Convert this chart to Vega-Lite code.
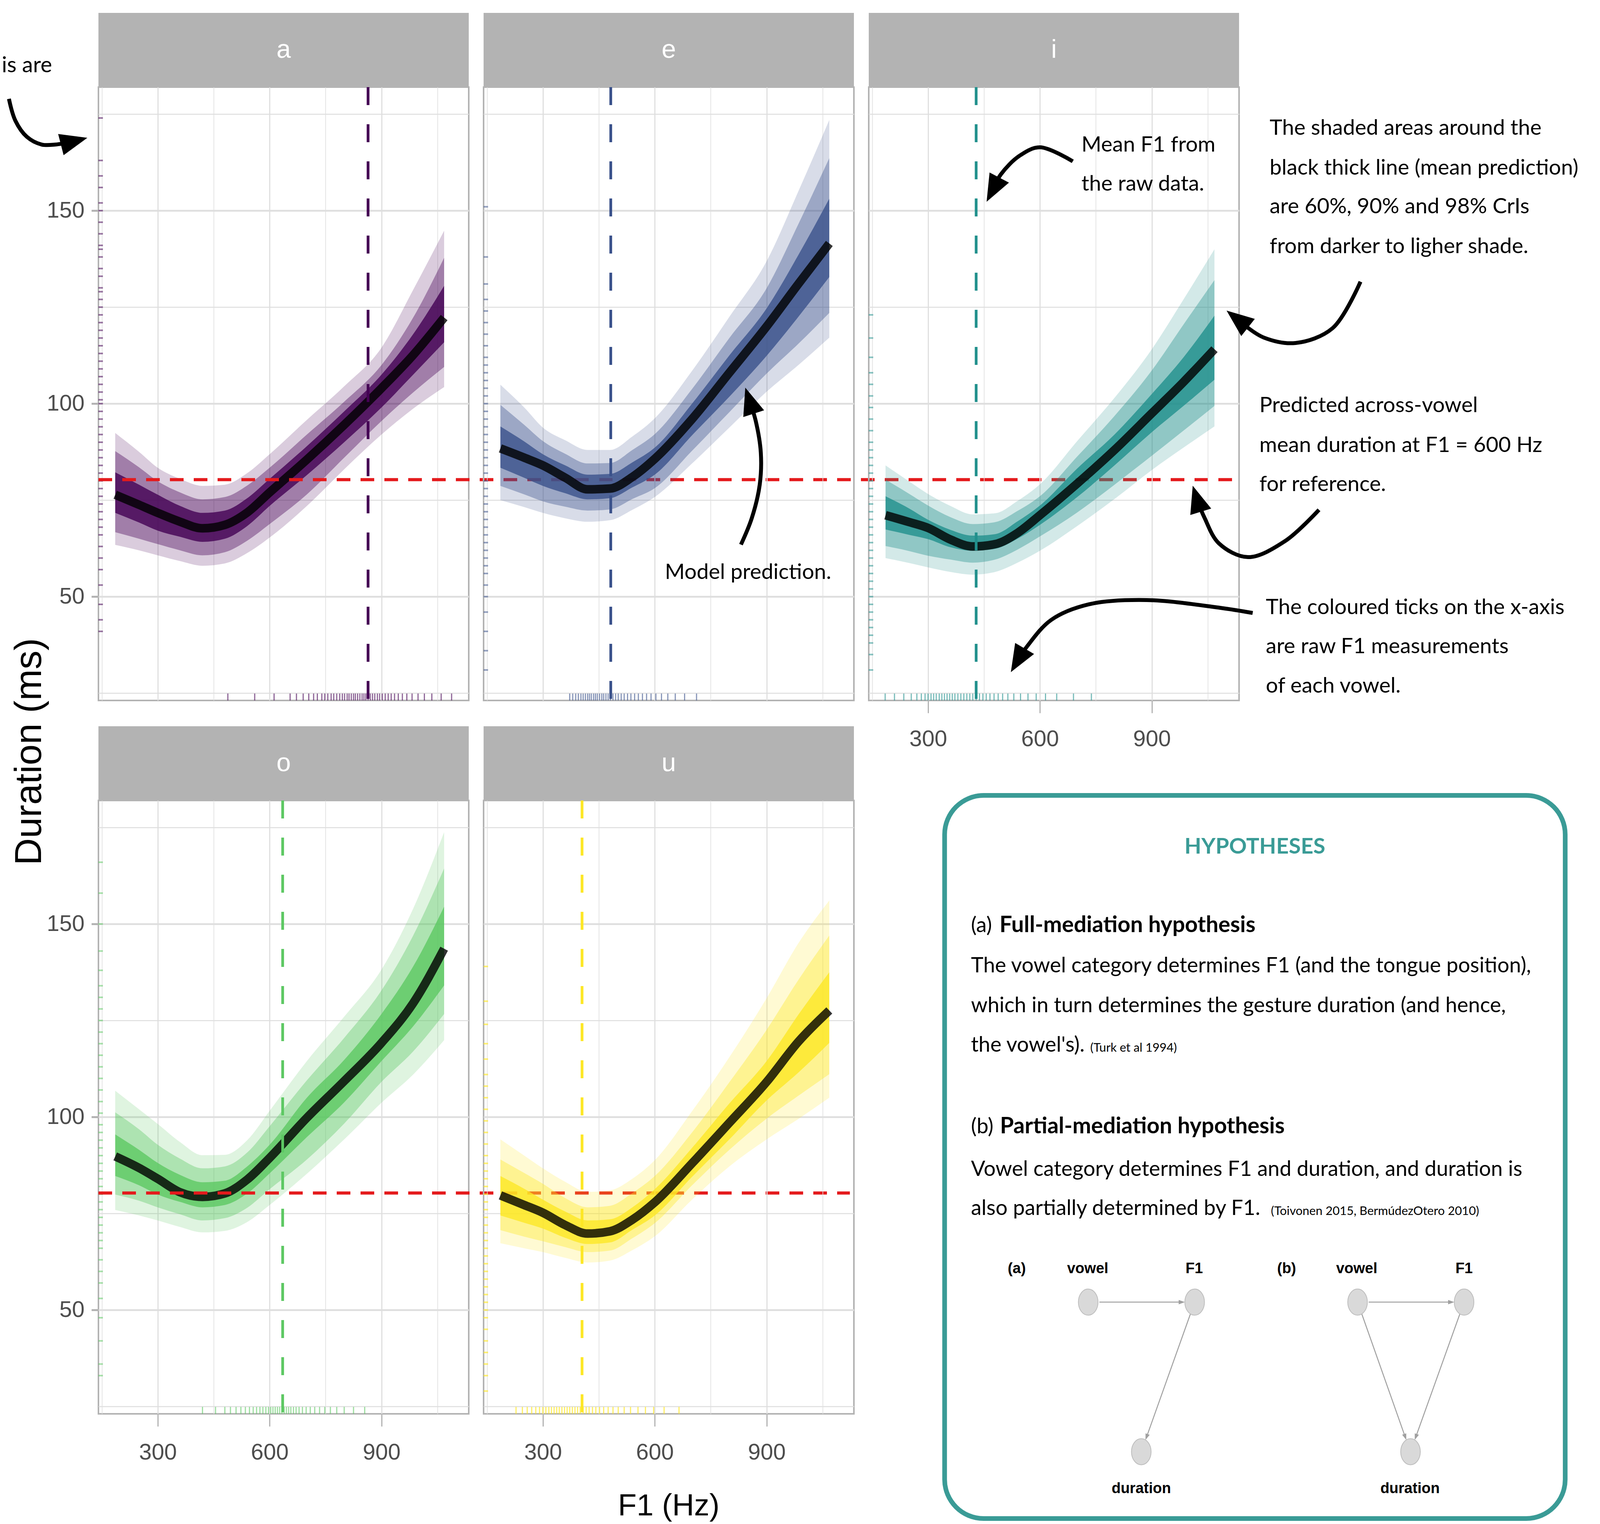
{
"$schema": "https://vega.github.io/schema/vega-lite/v6.json",
"background": "white",
"padding": {"left": 0, "top": 30, "right": 0, "bottom": 0},
"autosize": {"type": "pad"},
"config": {
  "view": {"stroke": "#B3B3B3", "strokeWidth": 4},
  "axis": {"domain": false, "gridColor": "#DEDEDE", "gridOpacity": 1, "tickColor": "#B3B3B3", "labelFont": "Liberation Sans", "labelFontSize": 58, "labelColor": "#4D4D4D", "labelOverlap": false, "labelFlush": false}
},
"datasets": {
  "pa": [
    {"f1":186,"m":76.4,"l98":63.4,"u98":92.4,"l90":66.7,"u90":87.7,"l60":71.7,"u60":82.2},
    {"f1":250,"m":73.8,"l98":62.0,"u98":87.5,"l90":65.0,"u90":83.5,"l60":69.2,"u60":79.0},
    {"f1":300,"m":71.7,"l98":60.7,"u98":83.4,"l90":63.6,"u90":79.9,"l60":67.1,"u60":76.4},
    {"f1":360,"m":69.4,"l98":59.2,"u98":80.5,"l90":62.0,"u90":77.0,"l60":65.5,"u60":73.5},
    {"f1":420,"m":67.7,"l98":58.0,"u98":78.7,"l90":60.7,"u90":75.2,"l60":64.2,"u60":71.7},
    {"f1":480,"m":68.6,"l98":58.6,"u98":79.0,"l90":61.5,"u90":75.8,"l60":65.0,"u60":72.3},
    {"f1":540,"m":71.8,"l98":61.3,"u98":82.0,"l90":64.5,"u90":78.8,"l60":68.3,"u60":75.5},
    {"f1":600,"m":77.0,"l98":65.3,"u98":86.9,"l90":68.8,"u90":83.4,"l60":73.5,"u60":80.5},
    {"f1":700,"m":85.5,"l98":73.5,"u98":95.8,"l90":76.5,"u90":92.0,"l60":81.5,"u60":89.0},
    {"f1":800,"m":94.5,"l98":83.0,"u98":104.5,"l90":86.0,"u90":100.5,"l60":90.0,"u60":98.0},
    {"f1":900,"m":104.0,"l98":92.0,"u98":114.5,"l90":95.5,"u90":110.0,"l60":99.0,"u60":107.5},
    {"f1":985,"m":112.6,"l98":98.7,"u98":129.5,"l90":102.9,"u90":122.3,"l60":107.5,"u60":118.0},
    {"f1":1068,"m":122.3,"l98":104.3,"u98":144.8,"l90":109.5,"u90":137.8,"l60":115.9,"u60":130.5}
  ],
  "pe": [
    {"f1":186,"m":88.4,"l98":75.0,"u98":104.9,"l90":78.7,"u90":99.7,"l60":83.4,"u60":94.1},
    {"f1":250,"m":86.0,"l98":73.2,"u98":99.0,"l90":76.5,"u90":94.5,"l60":80.8,"u60":90.2},
    {"f1":300,"m":84.0,"l98":71.7,"u98":93.8,"l90":74.7,"u90":90.3,"l60":78.7,"u60":86.9},
    {"f1":360,"m":80.8,"l98":70.3,"u98":90.5,"l90":73.3,"u90":87.0,"l60":76.8,"u60":84.0},
    {"f1":420,"m":77.8,"l98":69.4,"u98":88.0,"l90":72.3,"u90":84.5,"l60":75.2,"u60":81.6},
    {"f1":480,"m":78.0,"l98":69.8,"u98":88.0,"l90":72.6,"u90":84.6,"l60":75.5,"u60":81.8},
    {"f1":540,"m":81.0,"l98":72.5,"u98":91.5,"l90":75.3,"u90":88.0,"l60":78.3,"u60":84.8},
    {"f1":600,"m":85.7,"l98":75.8,"u98":96.2,"l90":78.1,"u90":92.1,"l60":81.6,"u60":88.6},
    {"f1":700,"m":96.0,"l98":84.5,"u98":108.5,"l90":87.8,"u90":103.8,"l60":91.8,"u60":100.0},
    {"f1":800,"m":108.0,"l98":93.8,"u98":122.5,"l90":97.8,"u90":117.0,"l60":101.8,"u60":112.5},
    {"f1":900,"m":120.0,"l98":103.1,"u98":136.9,"l90":107.8,"u90":129.9,"l60":112.4,"u60":124.7},
    {"f1":985,"m":131.0,"l98":110.0,"u98":155.0,"l90":115.5,"u90":146.5,"l60":122.5,"u60":138.5},
    {"f1":1068,"m":141.5,"l98":117.1,"u98":173.5,"l90":123.5,"u90":163.6,"l60":132.8,"u60":153.1}
  ],
  "pi": [
    {"f1":186,"m":71.1,"l98":60.0,"u98":84.0,"l90":63.1,"u90":80.3,"l60":67.4,"u60":76.0},
    {"f1":250,"m":69.3,"l98":58.7,"u98":79.8,"l90":61.8,"u90":76.6,"l60":66.0,"u60":72.8},
    {"f1":300,"m":67.8,"l98":57.6,"u98":76.6,"l90":60.6,"u90":73.6,"l60":64.9,"u60":69.9},
    {"f1":360,"m":64.8,"l98":56.4,"u98":73.5,"l90":59.6,"u90":70.6,"l60":62.8,"u60":67.3},
    {"f1":420,"m":63.0,"l98":55.7,"u98":71.3,"l90":58.8,"u90":68.8,"l60":61.9,"u60":65.8},
    {"f1":480,"m":63.6,"l98":56.4,"u98":71.6,"l90":59.6,"u90":69.3,"l60":62.4,"u60":66.2},
    {"f1":540,"m":66.5,"l98":58.8,"u98":74.8,"l90":62.2,"u90":72.2,"l60":65.0,"u60":69.5},
    {"f1":600,"m":71.1,"l98":61.9,"u98":79.1,"l90":65.6,"u90":76.0,"l60":68.6,"u60":73.6},
    {"f1":700,"m":79.3,"l98":68.3,"u98":90.3,"l90":71.8,"u90":86.3,"l60":75.8,"u60":83.2},
    {"f1":800,"m":88.0,"l98":75.3,"u98":101.5,"l90":79.0,"u90":96.8,"l60":84.0,"u60":92.0},
    {"f1":900,"m":97.5,"l98":82.8,"u98":114.1,"l90":86.5,"u90":108.6,"l60":92.6,"u60":102.5},
    {"f1":985,"m":105.6,"l98":88.6,"u98":127.0,"l90":93.0,"u90":120.5,"l60":99.4,"u60":112.0},
    {"f1":1068,"m":114.1,"l98":94.1,"u98":140.0,"l90":99.4,"u90":132.0,"l60":106.2,"u60":122.8}
  ],
  "po": [
    {"f1":186,"m":89.8,"l98":75.9,"u98":106.8,"l90":79.9,"u90":101.2,"l60":84.7,"u60":95.5},
    {"f1":250,"m":86.8,"l98":74.5,"u98":102.0,"l90":78.3,"u90":96.8,"l60":82.3,"u60":91.5},
    {"f1":300,"m":84.0,"l98":73.2,"u98":98.2,"l90":76.6,"u90":92.8,"l60":79.9,"u60":88.1},
    {"f1":360,"m":80.5,"l98":71.5,"u98":93.5,"l90":74.8,"u90":89.2,"l60":78.0,"u60":85.0},
    {"f1":420,"m":79.3,"l98":70.1,"u98":90.1,"l90":73.2,"u90":86.7,"l60":76.6,"u60":83.1},
    {"f1":480,"m":80.2,"l98":70.5,"u98":90.2,"l90":73.8,"u90":87.2,"l60":77.2,"u60":83.5},
    {"f1":540,"m":83.8,"l98":72.8,"u98":94.0,"l90":76.5,"u90":90.8,"l60":80.2,"u60":87.2},
    {"f1":600,"m":89.4,"l98":77.2,"u98":101.6,"l90":81.3,"u90":97.6,"l60":85.4,"u60":92.8},
    {"f1":700,"m":99.8,"l98":85.3,"u98":114.5,"l90":89.0,"u90":109.5,"l60":94.8,"u60":105.0},
    {"f1":800,"m":109.3,"l98":94.2,"u98":126.0,"l90":98.3,"u90":120.5,"l60":103.8,"u60":114.8},
    {"f1":900,"m":119.2,"l98":103.7,"u98":138.2,"l90":109.1,"u90":132.8,"l60":114.5,"u60":126.7},
    {"f1":985,"m":129.5,"l98":111.0,"u98":154.0,"l90":117.0,"u90":147.0,"l60":123.5,"u60":139.0},
    {"f1":1068,"m":143.6,"l98":119.9,"u98":173.8,"l90":126.7,"u90":164.4,"l60":134.1,"u60":154.5}
  ],
  "pu": [
    {"f1":186,"m":79.7,"l98":67.3,"u98":94.2,"l90":70.7,"u90":89.0,"l60":74.5,"u60":84.7},
    {"f1":250,"m":77.2,"l98":66.0,"u98":90.0,"l90":69.0,"u90":85.5,"l60":72.6,"u60":81.4},
    {"f1":300,"m":75.2,"l98":65.0,"u98":86.7,"l90":67.8,"u90":82.7,"l60":71.1,"u60":78.6},
    {"f1":360,"m":72.0,"l98":63.5,"u98":83.2,"l90":66.3,"u90":79.0,"l60":68.7,"u60":75.5},
    {"f1":420,"m":69.8,"l98":62.3,"u98":80.6,"l90":65.0,"u90":76.6,"l60":67.1,"u60":73.2},
    {"f1":480,"m":70.4,"l98":62.8,"u98":81.0,"l90":65.4,"u90":77.0,"l60":67.5,"u60":73.5},
    {"f1":540,"m":73.4,"l98":65.5,"u98":84.0,"l90":68.6,"u90":80.3,"l60":70.8,"u60":76.6},
    {"f1":600,"m":77.9,"l98":69.1,"u98":88.8,"l90":72.5,"u90":84.7,"l60":74.5,"u60":81.3},
    {"f1":700,"m":88.0,"l98":78.6,"u98":101.5,"l90":82.3,"u90":96.0,"l60":84.5,"u60":92.0},
    {"f1":800,"m":98.5,"l98":87.2,"u98":115.5,"l90":91.5,"u90":109.0,"l60":94.2,"u60":103.5},
    {"f1":900,"m":109.1,"l98":94.2,"u98":130.8,"l90":99.6,"u90":122.6,"l60":104.3,"u60":114.5},
    {"f1":985,"m":119.5,"l98":99.5,"u98":145.0,"l90":105.5,"u90":135.5,"l60":111.5,"u60":126.5},
    {"f1":1068,"m":127.6,"l98":105.0,"u98":156.1,"l90":111.1,"u90":147.0,"l60":119.2,"u60":137.5}
  ],
  "rxa": [{"f1":488},{"f1":560},{"f1":612},{"f1":655},{"f1":672},{"f1":690},{"f1":705},{"f1":718},{"f1":728},{"f1":740},{"f1":748},{"f1":756},{"f1":765},{"f1":772},{"f1":780},{"f1":788},{"f1":795},{"f1":801},{"f1":808},{"f1":813},{"f1":819},{"f1":825},{"f1":830},{"f1":836},{"f1":842},{"f1":848},{"f1":853},{"f1":858},{"f1":864},{"f1":870},{"f1":876},{"f1":882},{"f1":889},{"f1":895},{"f1":902},{"f1":910},{"f1":918},{"f1":926},{"f1":935},{"f1":945},{"f1":956},{"f1":968},{"f1":982},{"f1":998},{"f1":1015},{"f1":1035},{"f1":1060},{"f1":1088}],
  "rya": [{"d":174},{"d":163},{"d":159},{"d":156},{"d":152},{"d":150},{"d":147},{"d":144},{"d":141},{"d":140},{"d":138},{"d":135},{"d":133},{"d":130},{"d":129},{"d":127},{"d":125},{"d":123},{"d":121},{"d":119},{"d":117},{"d":115},{"d":113},{"d":111},{"d":109},{"d":107},{"d":105},{"d":103},{"d":101},{"d":100},{"d":98},{"d":96},{"d":94},{"d":92},{"d":90},{"d":88},{"d":86},{"d":84},{"d":82},{"d":80},{"d":78},{"d":76},{"d":74},{"d":72},{"d":70},{"d":68},{"d":66},{"d":63},{"d":60},{"d":57},{"d":53},{"d":48},{"d":44},{"d":41}],
  "rxe": [{"f1":372},{"f1":380},{"f1":388},{"f1":395},{"f1":402},{"f1":408},{"f1":414},{"f1":420},{"f1":425},{"f1":430},{"f1":436},{"f1":441},{"f1":446},{"f1":452},{"f1":458},{"f1":463},{"f1":469},{"f1":475},{"f1":481},{"f1":488},{"f1":495},{"f1":502},{"f1":510},{"f1":518},{"f1":527},{"f1":536},{"f1":546},{"f1":556},{"f1":567},{"f1":578},{"f1":590},{"f1":603},{"f1":618},{"f1":635},{"f1":655},{"f1":680},{"f1":712}],
  "rye": [{"d":151},{"d":138},{"d":131},{"d":127},{"d":124},{"d":121},{"d":118},{"d":115},{"d":112},{"d":110},{"d":108},{"d":106},{"d":104},{"d":102},{"d":100},{"d":98},{"d":96},{"d":94},{"d":92},{"d":90},{"d":88},{"d":86},{"d":84},{"d":82},{"d":80},{"d":78},{"d":76},{"d":74},{"d":72},{"d":70},{"d":68},{"d":66},{"d":64},{"d":62},{"d":60},{"d":58},{"d":56},{"d":53},{"d":50},{"d":46},{"d":41},{"d":36},{"d":31}],
  "rxi": [{"f1":185},{"f1":210},{"f1":235},{"f1":255},{"f1":270},{"f1":282},{"f1":292},{"f1":300},{"f1":308},{"f1":315},{"f1":322},{"f1":330},{"f1":337},{"f1":344},{"f1":351},{"f1":358},{"f1":365},{"f1":372},{"f1":380},{"f1":388},{"f1":396},{"f1":404},{"f1":412},{"f1":420},{"f1":429},{"f1":438},{"f1":447},{"f1":456},{"f1":466},{"f1":477},{"f1":488},{"f1":500},{"f1":514},{"f1":530},{"f1":548},{"f1":568},{"f1":590},{"f1":615},{"f1":645},{"f1":690},{"f1":738}],
  "ryi": [{"d":123},{"d":117},{"d":112},{"d":108},{"d":105},{"d":102},{"d":99},{"d":96},{"d":93},{"d":90},{"d":88},{"d":86},{"d":84},{"d":82},{"d":80},{"d":78},{"d":76},{"d":74},{"d":72},{"d":70},{"d":68},{"d":66},{"d":64},{"d":62},{"d":60},{"d":58},{"d":56},{"d":54},{"d":52},{"d":50},{"d":48},{"d":46},{"d":44},{"d":42},{"d":40},{"d":38},{"d":35},{"d":31}],
  "rxo": [{"f1":420},{"f1":455},{"f1":480},{"f1":495},{"f1":510},{"f1":523},{"f1":535},{"f1":546},{"f1":556},{"f1":565},{"f1":574},{"f1":582},{"f1":590},{"f1":597},{"f1":603},{"f1":609},{"f1":615},{"f1":621},{"f1":627},{"f1":633},{"f1":639},{"f1":645},{"f1":651},{"f1":657},{"f1":664},{"f1":671},{"f1":679},{"f1":688},{"f1":698},{"f1":709},{"f1":721},{"f1":734},{"f1":748},{"f1":763},{"f1":780},{"f1":800},{"f1":825},{"f1":855}],
  "ryo": [{"d":166},{"d":158},{"d":150},{"d":143},{"d":138},{"d":134},{"d":131},{"d":128},{"d":125},{"d":122},{"d":119},{"d":116},{"d":113},{"d":110},{"d":107},{"d":104},{"d":101},{"d":98},{"d":96},{"d":94},{"d":92},{"d":90},{"d":88},{"d":86},{"d":84},{"d":82},{"d":80},{"d":78},{"d":76},{"d":74},{"d":72},{"d":70},{"d":68},{"d":66},{"d":63},{"d":60},{"d":57},{"d":53},{"d":48},{"d":42},{"d":36},{"d":33}],
  "rxu": [{"f1":228},{"f1":245},{"f1":258},{"f1":270},{"f1":281},{"f1":291},{"f1":300},{"f1":308},{"f1":316},{"f1":323},{"f1":330},{"f1":337},{"f1":344},{"f1":351},{"f1":358},{"f1":365},{"f1":372},{"f1":379},{"f1":386},{"f1":393},{"f1":400},{"f1":408},{"f1":416},{"f1":424},{"f1":433},{"f1":442},{"f1":452},{"f1":463},{"f1":475},{"f1":488},{"f1":502},{"f1":518},{"f1":535},{"f1":555},{"f1":575},{"f1":597},{"f1":625},{"f1":665}],
  "ryu": [{"d":139},{"d":130},{"d":124},{"d":119},{"d":115},{"d":111},{"d":108},{"d":105},{"d":102},{"d":99},{"d":96},{"d":93},{"d":90},{"d":88},{"d":86},{"d":84},{"d":82},{"d":80},{"d":78},{"d":76},{"d":74},{"d":72},{"d":70},{"d":68},{"d":66},{"d":64},{"d":62},{"d":60},{"d":58},{"d":56},{"d":54},{"d":52},{"d":50},{"d":48},{"d":45},{"d":42},{"d":39},{"d":36},{"d":33},{"d":29}]
},
"columns": 3,
"align": "each",
"bounds": "flush",
"spacing": {"row": 256, "column": 38},
"concat": [
{
  "width": 948, "height": 1570,
  "data": {"name": "pa"},
  "layer": [
    {"mark": {"type": "area", "color": "#440154", "opacity": 0.2, "interpolate": "monotone"},
     "encoding": {
       "x": {"field": "f1", "type": "quantitative", "scale": {"domain": [141, 1134], "nice": false, "zero": false},
             "axis": {"values": [150,300,450,600,750,900,1050], "title": null, "grid": true, "gridWidth": {"condition": {"test": "datum.value % 300 === 0", "value": 2.8}, "value": 1.6}, "labels": false, "ticks": false}},
       "y": {"field": "l98", "type": "quantitative", "scale": {"domain": [23.1, 182], "nice": false, "zero": false},
             "axis": {"values": [25,50,75,100,125,150,175], "title": null, "grid": true, "gridWidth": {"condition": {"test": "datum.value % 50 === 0", "value": 4.5}, "value": 2.5}, "labelExpr": "datum.value % 50 === 0 ? datum.label : ''", "tickOpacity": {"condition": {"test": "datum.value % 50 === 0", "value": 1}, "value": 0}, "tickSize": 18, "tickWidth": 5, "labelPadding": 18}},
       "y2": {"field": "u98"}}},
    {"mark": {"type": "area", "color": "#440154", "opacity": 0.38, "interpolate": "monotone"},
     "encoding": {"x": {"field": "f1", "type": "quantitative"}, "y": {"field": "l90", "type": "quantitative"}, "y2": {"field": "u90"}}},
    {"mark": {"type": "area", "color": "#440154", "opacity": 0.8, "interpolate": "monotone"},
     "encoding": {"x": {"field": "f1", "type": "quantitative"}, "y": {"field": "l60", "type": "quantitative"}, "y2": {"field": "u60"}}},
    {"mark": {"type": "line", "color": "black", "opacity": 0.8, "strokeWidth": 22, "interpolate": "monotone"},
     "encoding": {"x": {"field": "f1", "type": "quantitative"}, "y": {"field": "m", "type": "quantitative"}}},
    {"data": {"name": "rxa"}, "mark": {"type": "rule", "color": "#440154", "strokeWidth": 3, "opacity": 0.6},
     "encoding": {"x": {"field": "f1", "type": "quantitative"}, "y": {"datum": 23.1, "type": "quantitative"}, "y2": {"datum": 24.9}}},
    {"data": {"name": "rya"}, "mark": {"type": "rule", "color": "#440154", "strokeWidth": 4, "opacity": 0.55},
     "encoding": {"y": {"field": "d", "type": "quantitative"}, "x": {"datum": 141, "type": "quantitative"}, "x2": {"datum": 153}}},
    {"data": {"values": [{"ref": 80.3}]}, "mark": {"type": "rule", "color": "#E41A1C", "strokeWidth": 8, "strokeDash": [35, 26]},
     "encoding": {"y": {"field": "ref", "type": "quantitative"}, "x": {"datum": 141, "type": "quantitative"}, "x2": {"datum": 3185}}},
    {"data": {"values": [{"mf1": 864}]}, "mark": {"type": "rule", "color": "#440154", "strokeWidth": 7, "strokeDash": [46, 49]},
     "encoding": {"x": {"field": "mf1", "type": "quantitative"}}},
    {"data": {"values": [{"lab": "a"}]}, "mark": {"type": "rect", "color": "#B3B3B3", "opacity": 1},
     "encoding": {"x": {"datum": 141, "type": "quantitative"}, "x2": {"datum": 1134}, "y": {"datum": 182, "type": "quantitative"}, "y2": {"datum": 201.23}}},
    {"data": {"values": [{"lab": "a"}]}, "mark": {"type": "text", "color": "white", "font": "Liberation Sans", "fontSize": 66, "align": "center", "baseline": "middle"},
     "encoding": {"x": {"datum": 637.5, "type": "quantitative"}, "y": {"datum": 191.6, "type": "quantitative"}, "text": {"field": "lab"}}},
    {"data": {"values": [{"F1": -118.2, "D": 185.85, "t": "is are"}]}, "mark": {"type": "text", "font": "Lato", "fontSize": 56, "align": "left", "baseline": "alphabetic", "color": "black"},
     "encoding": {"x": {"field": "F1", "type": "quantitative"}, "y": {"field": "D", "type": "quantitative"}, "text": {"field": "t"}}},
    {"data": {"values": [{"g": 6, "k": 0, "F1": -99.0, "D": 178.96}, {"g": 6, "k": 1, "F1": -81.7, "D": 173.3}, {"g": 6, "k": 2, "F1": -51.1, "D": 169.15}, {"g": 6, "k": 3, "F1": -11.0, "D": 167.12}, {"g": 6, "k": 4, "F1": 25.5, "D": 167.12}, {"g": 6, "k": 5, "F1": 53.0, "D": 167.53}, {"g": 6, "k": 6, "F1": 75.8, "D": 167.98}]},
     "mark": {"type": "line", "color": "black", "strokeWidth": 10, "interpolate": "catmull-rom"},
     "encoding": {"x": {"field": "F1", "type": "quantitative"}, "y": {"field": "D", "type": "quantitative"}, "order": {"field": "k", "type": "quantitative"}, "detail": {"field": "g", "type": "nominal"}}},
    {"data": {"values": [{"F1": 75.8, "D": 167.98}]}, "mark": {"type": "point", "shape": "M0,-1L0.8,1L-0.8,1Z", "filled": true, "color": "black", "opacity": 1, "size": 4900, "angle": 75.6},
     "encoding": {"x": {"field": "F1", "type": "quantitative"}, "y": {"field": "D", "type": "quantitative"}}},
    {"data": {"values": [{"F1": -13.5, "D": 9.84, "t": "Duration (ms)"}]}, "mark": {"type": "text", "font": "Liberation Sans", "fontSize": 96, "angle": 270, "align": "center", "baseline": "alphabetic", "color": "black"},
     "encoding": {"x": {"field": "F1", "type": "quantitative"}, "y": {"field": "D", "type": "quantitative"}, "text": {"field": "t"}}}
  ]
},
{
  "width": 948, "height": 1570,
  "data": {"name": "pe"},
  "layer": [
    {"mark": {"type": "area", "color": "#3B528B", "opacity": 0.2, "interpolate": "monotone"},
     "encoding": {
       "x": {"field": "f1", "type": "quantitative", "scale": {"domain": [141, 1134], "nice": false, "zero": false},
             "axis": {"values": [150,300,450,600,750,900,1050], "title": null, "grid": true, "gridWidth": {"condition": {"test": "datum.value % 300 === 0", "value": 2.8}, "value": 1.6}, "labels": false, "ticks": false}},
       "y": {"field": "l98", "type": "quantitative", "scale": {"domain": [23.1, 182], "nice": false, "zero": false},
             "axis": {"values": [25,50,75,100,125,150,175], "title": null, "grid": true, "gridWidth": {"condition": {"test": "datum.value % 50 === 0", "value": 4.5}, "value": 2.5}, "labels": false, "ticks": false}},
       "y2": {"field": "u98"}}},
    {"mark": {"type": "area", "color": "#3B528B", "opacity": 0.38, "interpolate": "monotone"},
     "encoding": {"x": {"field": "f1", "type": "quantitative"}, "y": {"field": "l90", "type": "quantitative"}, "y2": {"field": "u90"}}},
    {"mark": {"type": "area", "color": "#3B528B", "opacity": 0.8, "interpolate": "monotone"},
     "encoding": {"x": {"field": "f1", "type": "quantitative"}, "y": {"field": "l60", "type": "quantitative"}, "y2": {"field": "u60"}}},
    {"mark": {"type": "line", "color": "black", "opacity": 0.8, "strokeWidth": 22, "interpolate": "monotone"},
     "encoding": {"x": {"field": "f1", "type": "quantitative"}, "y": {"field": "m", "type": "quantitative"}}},
    {"data": {"name": "rxe"}, "mark": {"type": "rule", "color": "#3B528B", "strokeWidth": 3, "opacity": 0.6},
     "encoding": {"x": {"field": "f1", "type": "quantitative"}, "y": {"datum": 23.1, "type": "quantitative"}, "y2": {"datum": 24.9}}},
    {"data": {"name": "rye"}, "mark": {"type": "rule", "color": "#3B528B", "strokeWidth": 4, "opacity": 0.55},
     "encoding": {"y": {"field": "d", "type": "quantitative"}, "x": {"datum": 141, "type": "quantitative"}, "x2": {"datum": 153}}},
    {"data": {"values": [{"mf1": 482}]}, "mark": {"type": "rule", "color": "#3B528B", "strokeWidth": 7, "strokeDash": [46, 49]},
     "encoding": {"x": {"field": "mf1", "type": "quantitative"}}},
    {"data": {"values": [{"lab": "e"}]}, "mark": {"type": "rect", "color": "#B3B3B3", "opacity": 1},
     "encoding": {"x": {"datum": 141, "type": "quantitative"}, "x2": {"datum": 1134}, "y": {"datum": 182, "type": "quantitative"}, "y2": {"datum": 201.23}}},
    {"data": {"values": [{"lab": "e"}]}, "mark": {"type": "text", "color": "white", "font": "Liberation Sans", "fontSize": 66, "align": "center", "baseline": "middle"},
     "encoding": {"x": {"datum": 637.5, "type": "quantitative"}, "y": {"datum": 191.6, "type": "quantitative"}, "text": {"field": "lab"}}},
    {"data": {"values": [{"F1": 627.0, "D": 54.58, "t": "Model prediction."}]}, "mark": {"type": "text", "font": "Lato", "fontSize": 55, "align": "left", "baseline": "alphabetic", "color": "black"},
     "encoding": {"x": {"field": "F1", "type": "quantitative"}, "y": {"field": "D", "type": "quantitative"}, "text": {"field": "t"}}},
    {"data": {"values": [{"g": 5, "k": 0, "F1": 831.1, "D": 63.48}, {"g": 5, "k": 1, "F1": 859.9, "D": 70.26}, {"g": 5, "k": 2, "F1": 881.4, "D": 78.97}, {"g": 5, "k": 3, "F1": 884.4, "D": 87.27}, {"g": 5, "k": 4, "F1": 870.6, "D": 95.57}, {"g": 5, "k": 5, "F1": 854.0, "D": 100.77}]},
     "mark": {"type": "line", "color": "black", "strokeWidth": 10, "interpolate": "catmull-rom"},
     "encoding": {"x": {"field": "F1", "type": "quantitative"}, "y": {"field": "D", "type": "quantitative"}, "order": {"field": "k", "type": "quantitative"}, "detail": {"field": "g", "type": "nominal"}}},
    {"data": {"values": [{"F1": 854.0, "D": 100.77}]}, "mark": {"type": "point", "shape": "M0,-1L0.8,1L-0.8,1Z", "filled": true, "color": "black", "opacity": 1, "size": 4900, "angle": 342.1},
     "encoding": {"x": {"field": "F1", "type": "quantitative"}, "y": {"field": "D", "type": "quantitative"}}}
  ]
},
{
  "width": 948, "height": 1570,
  "data": {"name": "pi"},
  "layer": [
    {"mark": {"type": "area", "color": "#21908C", "opacity": 0.2, "interpolate": "monotone"},
     "encoding": {
       "x": {"field": "f1", "type": "quantitative", "scale": {"domain": [141, 1134], "nice": false, "zero": false},
             "axis": {"values": [150,300,450,600,750,900,1050], "title": null, "grid": true, "gridWidth": {"condition": {"test": "datum.value % 300 === 0", "value": 2.8}, "value": 1.6}, "labelExpr": "datum.value % 300 === 0 ? datum.label : ''", "tickOpacity": {"condition": {"test": "datum.value % 300 === 0", "value": 1}, "value": 0}, "tickSize": 32, "tickWidth": 3, "labelPadding": 38}},
       "y": {"field": "l98", "type": "quantitative", "scale": {"domain": [23.1, 182], "nice": false, "zero": false},
             "axis": {"values": [25,50,75,100,125,150,175], "title": null, "grid": true, "gridWidth": {"condition": {"test": "datum.value % 50 === 0", "value": 4.5}, "value": 2.5}, "labels": false, "ticks": false}},
       "y2": {"field": "u98"}}},
    {"mark": {"type": "area", "color": "#21908C", "opacity": 0.38, "interpolate": "monotone"},
     "encoding": {"x": {"field": "f1", "type": "quantitative"}, "y": {"field": "l90", "type": "quantitative"}, "y2": {"field": "u90"}}},
    {"mark": {"type": "area", "color": "#21908C", "opacity": 0.8, "interpolate": "monotone"},
     "encoding": {"x": {"field": "f1", "type": "quantitative"}, "y": {"field": "l60", "type": "quantitative"}, "y2": {"field": "u60"}}},
    {"mark": {"type": "line", "color": "black", "opacity": 0.8, "strokeWidth": 22, "interpolate": "monotone"},
     "encoding": {"x": {"field": "f1", "type": "quantitative"}, "y": {"field": "m", "type": "quantitative"}}},
    {"data": {"name": "rxi"}, "mark": {"type": "rule", "color": "#21908C", "strokeWidth": 3, "opacity": 0.6},
     "encoding": {"x": {"field": "f1", "type": "quantitative"}, "y": {"datum": 23.1, "type": "quantitative"}, "y2": {"datum": 24.9}}},
    {"data": {"name": "ryi"}, "mark": {"type": "rule", "color": "#21908C", "strokeWidth": 4, "opacity": 0.55},
     "encoding": {"y": {"field": "d", "type": "quantitative"}, "x": {"datum": 141, "type": "quantitative"}, "x2": {"datum": 153}}},
    {"data": {"values": [{"mf1": 429}]}, "mark": {"type": "rule", "color": "#21908C", "strokeWidth": 7, "strokeDash": [46, 49]},
     "encoding": {"x": {"field": "mf1", "type": "quantitative"}}},
    {"data": {"values": [{"lab": "i"}]}, "mark": {"type": "rect", "color": "#B3B3B3", "opacity": 1},
     "encoding": {"x": {"datum": 141, "type": "quantitative"}, "x2": {"datum": 1134}, "y": {"datum": 182, "type": "quantitative"}, "y2": {"datum": 201.23}}},
    {"data": {"values": [{"lab": "i"}]}, "mark": {"type": "text", "color": "white", "font": "Liberation Sans", "fontSize": 66, "align": "center", "baseline": "middle"},
     "encoding": {"x": {"datum": 637.5, "type": "quantitative"}, "y": {"datum": 191.6, "type": "quantitative"}, "text": {"field": "lab"}}},
    {"data": {"values": [
       {"F1": 711.4, "D": 165.3, "t": "Mean F1 from"},
       {"F1": 711.4, "D": 155.18, "t": "the raw data."},
       {"F1": 1216.0, "D": 169.65, "t": "The shaded areas around the"},
       {"F1": 1216.0, "D": 159.33, "t": "black thick line (mean prediction)"},
       {"F1": 1216.0, "D": 149.31, "t": "are 60%, 90% and 98% CrIs"},
       {"F1": 1216.0, "D": 138.99, "t": "from darker to ligher shade."},
       {"F1": 1188.5, "D": 97.79, "t": "Predicted across-vowel"},
       {"F1": 1188.5, "D": 87.47, "t": "mean duration at F1 = 600 Hz"},
       {"F1": 1188.5, "D": 77.35, "t": "for reference."},
       {"F1": 1205.8, "D": 45.47, "t": "The coloured ticks on the x-axis"},
       {"F1": 1205.8, "D": 35.35, "t": "are raw F1 measurements"},
       {"F1": 1205.8, "D": 25.13, "t": "of each vowel."}]},
     "mark": {"type": "text", "font": "Lato", "fontSize": 55, "align": "left", "baseline": "alphabetic", "color": "black"},
     "encoding": {"x": {"field": "F1", "type": "quantitative"}, "y": {"field": "D", "type": "quantitative"}, "text": {"field": "t"}}},
    {"data": {"values": [
       {"g": 1, "k": 0, "F1": 688.1, "D": 162.77}, {"g": 1, "k": 1, "F1": 600.1, "D": 166.41}, {"g": 1, "k": 2, "F1": 545.0, "D": 164.19}, {"g": 1, "k": 3, "F1": 494.7, "D": 159.33}, {"g": 1, "k": 4, "F1": 474.0, "D": 155.44},
       {"g": 2, "k": 0, "F1": 1459.6, "D": 131.6}, {"g": 2, "k": 1, "F1": 1384.8, "D": 119.55}, {"g": 2, "k": 2, "F1": 1285.4, "D": 115.71}, {"g": 2, "k": 3, "F1": 1200.4, "D": 117.12}, {"g": 2, "k": 4, "F1": 1150.8, "D": 120.16}, {"g": 2, "k": 5, "F1": 1129.3, "D": 121.92},
       {"g": 3, "k": 0, "F1": 1348.3, "D": 72.49}, {"g": 3, "k": 1, "F1": 1257.3, "D": 64.39}, {"g": 3, "k": 2, "F1": 1158.0, "D": 60.24}, {"g": 3, "k": 3, "F1": 1080.1, "D": 63.79}, {"g": 3, "k": 4, "F1": 1041.2, "D": 70.47}, {"g": 3, "k": 5, "F1": 1020.5, "D": 75.36},
       {"g": 4, "k": 0, "F1": 1170.5, "D": 45.77}, {"g": 4, "k": 1, "F1": 1084.3, "D": 47.09}, {"g": 4, "k": 2, "F1": 886.2, "D": 49.11}, {"g": 4, "k": 3, "F1": 731.2, "D": 48.0}, {"g": 4, "k": 4, "F1": 630.0, "D": 43.95}, {"g": 4, "k": 5, "F1": 566.0, "D": 37.17}, {"g": 4, "k": 6, "F1": 540.5, "D": 33.51}]},
     "mark": {"type": "line", "color": "black", "strokeWidth": 10, "interpolate": "catmull-rom"},
     "encoding": {"x": {"field": "F1", "type": "quantitative"}, "y": {"field": "D", "type": "quantitative"}, "order": {"field": "k", "type": "quantitative"}, "detail": {"field": "g", "type": "nominal"}}},
    {"data": {"values": [{"F1": 474.0, "D": 155.44}]}, "mark": {"type": "point", "shape": "M0,-1L0.8,1L-0.8,1Z", "filled": true, "color": "black", "opacity": 1, "size": 4900, "angle": 207.6},
     "encoding": {"x": {"field": "F1", "type": "quantitative"}, "y": {"field": "D", "type": "quantitative"}}},
    {"data": {"values": [{"F1": 1129.3, "D": 121.92}]}, "mark": {"type": "point", "shape": "M0,-1L0.8,1L-0.8,1Z", "filled": true, "color": "black", "opacity": 1, "size": 4900, "angle": 308.3},
     "encoding": {"x": {"field": "F1", "type": "quantitative"}, "y": {"field": "D", "type": "quantitative"}}},
    {"data": {"values": [{"F1": 1020.5, "D": 75.36}]}, "mark": {"type": "point", "shape": "M0,-1L0.8,1L-0.8,1Z", "filled": true, "color": "black", "opacity": 1, "size": 4900, "angle": 342.9},
     "encoding": {"x": {"field": "F1", "type": "quantitative"}, "y": {"field": "D", "type": "quantitative"}}},
    {"data": {"values": [{"F1": 540.5, "D": 33.51}]}, "mark": {"type": "point", "shape": "M0,-1L0.8,1L-0.8,1Z", "filled": true, "color": "black", "opacity": 1, "size": 4900, "angle": 210.2},
     "encoding": {"x": {"field": "F1", "type": "quantitative"}, "y": {"field": "D", "type": "quantitative"}}}
  ]
},
{
  "width": 948, "height": 1570,
  "data": {"name": "po"},
  "layer": [
    {"mark": {"type": "area", "color": "#5DC863", "opacity": 0.2, "interpolate": "monotone"},
     "encoding": {
       "x": {"field": "f1", "type": "quantitative", "scale": {"domain": [141, 1134], "nice": false, "zero": false},
             "axis": {"values": [150,300,450,600,750,900,1050], "title": null, "grid": true, "gridWidth": {"condition": {"test": "datum.value % 300 === 0", "value": 2.8}, "value": 1.6}, "labelExpr": "datum.value % 300 === 0 ? datum.label : ''", "tickOpacity": {"condition": {"test": "datum.value % 300 === 0", "value": 1}, "value": 0}, "tickSize": 32, "tickWidth": 3, "labelPadding": 38}},
       "y": {"field": "l98", "type": "quantitative", "scale": {"domain": [23.1, 182], "nice": false, "zero": false},
             "axis": {"values": [25,50,75,100,125,150,175], "title": null, "grid": true, "gridWidth": {"condition": {"test": "datum.value % 50 === 0", "value": 4.5}, "value": 2.5}, "labelExpr": "datum.value % 50 === 0 ? datum.label : ''", "tickOpacity": {"condition": {"test": "datum.value % 50 === 0", "value": 1}, "value": 0}, "tickSize": 18, "tickWidth": 5, "labelPadding": 18}},
       "y2": {"field": "u98"}}},
    {"mark": {"type": "area", "color": "#5DC863", "opacity": 0.38, "interpolate": "monotone"},
     "encoding": {"x": {"field": "f1", "type": "quantitative"}, "y": {"field": "l90", "type": "quantitative"}, "y2": {"field": "u90"}}},
    {"mark": {"type": "area", "color": "#5DC863", "opacity": 0.8, "interpolate": "monotone"},
     "encoding": {"x": {"field": "f1", "type": "quantitative"}, "y": {"field": "l60", "type": "quantitative"}, "y2": {"field": "u60"}}},
    {"mark": {"type": "line", "color": "black", "opacity": 0.8, "strokeWidth": 22, "interpolate": "monotone"},
     "encoding": {"x": {"field": "f1", "type": "quantitative"}, "y": {"field": "m", "type": "quantitative"}}},
    {"data": {"name": "rxo"}, "mark": {"type": "rule", "color": "#5DC863", "strokeWidth": 3, "opacity": 0.6},
     "encoding": {"x": {"field": "f1", "type": "quantitative"}, "y": {"datum": 23.1, "type": "quantitative"}, "y2": {"datum": 24.9}}},
    {"data": {"name": "ryo"}, "mark": {"type": "rule", "color": "#5DC863", "strokeWidth": 4, "opacity": 0.55},
     "encoding": {"y": {"field": "d", "type": "quantitative"}, "x": {"datum": 141, "type": "quantitative"}, "x2": {"datum": 153}}},
    {"data": {"values": [{"ref": 80.3}]}, "mark": {"type": "rule", "color": "#E41A1C", "strokeWidth": 8, "strokeDash": [35, 26]},
     "encoding": {"y": {"field": "ref", "type": "quantitative"}, "x": {"datum": 141, "type": "quantitative"}, "x2": {"datum": 2156}}},
    {"data": {"values": [{"mf1": 635}]}, "mark": {"type": "rule", "color": "#5DC863", "strokeWidth": 7, "strokeDash": [46, 49]},
     "encoding": {"x": {"field": "mf1", "type": "quantitative"}}},
    {"data": {"values": [{"lab": "o"}]}, "mark": {"type": "rect", "color": "#B3B3B3", "opacity": 1},
     "encoding": {"x": {"datum": 141, "type": "quantitative"}, "x2": {"datum": 1134}, "y": {"datum": 182, "type": "quantitative"}, "y2": {"datum": 201.23}}},
    {"data": {"values": [{"lab": "o"}]}, "mark": {"type": "text", "color": "white", "font": "Liberation Sans", "fontSize": 66, "align": "center", "baseline": "middle"},
     "encoding": {"x": {"datum": 637.5, "type": "quantitative"}, "y": {"datum": 191.6, "type": "quantitative"}, "text": {"field": "lab"}}}
  ]
},
{
  "width": 948, "height": 1570,
  "data": {"name": "pu"},
  "layer": [
    {"mark": {"type": "area", "color": "#FDE725", "opacity": 0.2, "interpolate": "monotone"},
     "encoding": {
       "x": {"field": "f1", "type": "quantitative", "scale": {"domain": [141, 1134], "nice": false, "zero": false},
             "axis": {"values": [150,300,450,600,750,900,1050], "title": null, "grid": true, "gridWidth": {"condition": {"test": "datum.value % 300 === 0", "value": 2.8}, "value": 1.6}, "labelExpr": "datum.value % 300 === 0 ? datum.label : ''", "tickOpacity": {"condition": {"test": "datum.value % 300 === 0", "value": 1}, "value": 0}, "tickSize": 32, "tickWidth": 3, "labelPadding": 38}},
       "y": {"field": "l98", "type": "quantitative", "scale": {"domain": [23.1, 182], "nice": false, "zero": false},
             "axis": {"values": [25,50,75,100,125,150,175], "title": null, "grid": true, "gridWidth": {"condition": {"test": "datum.value % 50 === 0", "value": 4.5}, "value": 2.5}, "labels": false, "ticks": false}},
       "y2": {"field": "u98"}}},
    {"mark": {"type": "area", "color": "#FDE725", "opacity": 0.38, "interpolate": "monotone"},
     "encoding": {"x": {"field": "f1", "type": "quantitative"}, "y": {"field": "l90", "type": "quantitative"}, "y2": {"field": "u90"}}},
    {"mark": {"type": "area", "color": "#FDE725", "opacity": 0.8, "interpolate": "monotone"},
     "encoding": {"x": {"field": "f1", "type": "quantitative"}, "y": {"field": "l60", "type": "quantitative"}, "y2": {"field": "u60"}}},
    {"mark": {"type": "line", "color": "black", "opacity": 0.8, "strokeWidth": 22, "interpolate": "monotone"},
     "encoding": {"x": {"field": "f1", "type": "quantitative"}, "y": {"field": "m", "type": "quantitative"}}},
    {"data": {"name": "rxu"}, "mark": {"type": "rule", "color": "#FDE725", "strokeWidth": 3, "opacity": 0.7},
     "encoding": {"x": {"field": "f1", "type": "quantitative"}, "y": {"datum": 23.1, "type": "quantitative"}, "y2": {"datum": 24.9}}},
    {"data": {"name": "ryu"}, "mark": {"type": "rule", "color": "#FDE725", "strokeWidth": 4, "opacity": 0.65},
     "encoding": {"y": {"field": "d", "type": "quantitative"}, "x": {"datum": 141, "type": "quantitative"}, "x2": {"datum": 153}}},
    {"data": {"values": [{"mf1": 405}]}, "mark": {"type": "rule", "color": "#FDE725", "strokeWidth": 7, "strokeDash": [46, 49]},
     "encoding": {"x": {"field": "mf1", "type": "quantitative"}}},
    {"data": {"values": [{"lab": "u"}]}, "mark": {"type": "rect", "color": "#B3B3B3", "opacity": 1},
     "encoding": {"x": {"datum": 141, "type": "quantitative"}, "x2": {"datum": 1134}, "y": {"datum": 182, "type": "quantitative"}, "y2": {"datum": 201.23}}},
    {"data": {"values": [{"lab": "u"}]}, "mark": {"type": "text", "color": "white", "font": "Liberation Sans", "fontSize": 66, "align": "center", "baseline": "middle"},
     "encoding": {"x": {"datum": 637.5, "type": "quantitative"}, "y": {"datum": 191.6, "type": "quantitative"}, "text": {"field": "lab"}}},
    {"data": {"values": [{"F1": 637.5, "D": -3.2, "t": "F1 (Hz)"}]}, "mark": {"type": "text", "font": "Liberation Sans", "fontSize": 78, "align": "center", "baseline": "alphabetic", "color": "black"},
     "encoding": {"x": {"field": "F1", "type": "quantitative"}, "y": {"field": "D", "type": "quantitative"}, "text": {"field": "t"}}}
  ]
},
{
  "width": 1800, "height": 1850,
  "view": {"stroke": null},
  "layer": [
    {"data": {"values": [{"x1": 10.79, "x2": 99.05, "y1": -0.7, "y2": 99.35}]},
     "mark": {"type": "rect", "fill": "white", "stroke": "#3A9B96", "strokeWidth": 12, "cornerRadius": 100},
     "encoding": {"x": {"field": "x1", "type": "quantitative", "scale": {"domain": [0, 100], "nice": false, "zero": false}, "axis": null},
                  "x2": {"field": "x2"},
                  "y": {"field": "y1", "type": "quantitative", "scale": {"domain": [0, 100], "nice": false, "zero": false, "reverse": true}, "axis": null},
                  "y2": {"field": "y2"}}},
    {"data": {"values": [{"x": 54.92, "y": 7.35, "t": "HYPOTHESES"}]},
     "mark": {"type": "text", "font": "Lato", "fontWeight": "bold", "fontSize": 56, "align": "center", "baseline": "alphabetic", "color": "#3A9B96"},
     "encoding": {"x": {"field": "x", "type": "quantitative"}, "y": {"field": "y", "type": "quantitative"}, "text": {"field": "t"}}},
    {"data": {"values": [
       {"x": 14.54, "y": 18.22, "t": "(a)"},
       {"x": 14.54, "y": 23.78, "t": "The vowel category determines F1 (and the tongue position),"},
       {"x": 14.54, "y": 29.3, "t": "which in turn determines the gesture duration (and hence,"},
       {"x": 14.54, "y": 34.78, "t": "the vowel's)."},
       {"x": 14.54, "y": 46.08, "t": "(b)"},
       {"x": 14.54, "y": 51.95, "t": "Vowel category determines F1 and duration, and duration is"},
       {"x": 14.54, "y": 57.35, "t": "also partially determined by F1."}]},
     "mark": {"type": "text", "font": "Lato", "fontSize": 54, "align": "left", "baseline": "alphabetic", "color": "black"},
     "encoding": {"x": {"field": "x", "type": "quantitative"}, "y": {"field": "y", "type": "quantitative"}, "text": {"field": "t"}}},
    {"data": {"values": [
       {"x": 18.6, "y": 18.22, "t": "Full-mediation hypothesis"},
       {"x": 18.66, "y": 46.08, "t": "Partial-mediation hypothesis"}]},
     "mark": {"type": "text", "font": "Lato", "fontWeight": "bold", "fontSize": 57, "align": "left", "baseline": "alphabetic", "color": "black"},
     "encoding": {"x": {"field": "x", "type": "quantitative"}, "y": {"field": "y", "type": "quantitative"}, "text": {"field": "t"}}},
    {"data": {"values": [
       {"x": 31.5, "y": 34.78, "t": "(Turk et al 1994)"},
       {"x": 57.2, "y": 57.35, "t": "(Toivonen 2015, BermúdezOtero 2010)"}]},
     "mark": {"type": "text", "font": "Lato", "fontSize": 31, "align": "left", "baseline": "alphabetic", "color": "black"},
     "encoding": {"x": {"field": "x", "type": "quantitative"}, "y": {"field": "y", "type": "quantitative"}, "text": {"field": "t"}}},
    {"data": {"values": [
       {"x1": 32.8, "y1": 69.41, "x2": 44.5, "y2": 69.41},
       {"x1": 45.75, "y1": 71.04, "x2": 39.51, "y2": 88.07},
       {"x1": 71.1, "y1": 69.41, "x2": 82.84, "y2": 69.41},
       {"x1": 70.12, "y1": 71.04, "x2": 76.3, "y2": 88.07},
       {"x1": 84.07, "y1": 71.04, "x2": 77.8, "y2": 88.07}]},
     "mark": {"type": "rule", "color": "#A0A0A0", "strokeWidth": 2.5},
     "encoding": {"x": {"field": "x1", "type": "quantitative"}, "y": {"field": "y1", "type": "quantitative"}, "x2": {"field": "x2"}, "y2": {"field": "y2"}}},
    {"data": {"values": [{"x": 44.52, "y": 69.41}, {"x": 82.84, "y": 69.41}]},
     "mark": {"type": "point", "shape": "M0,-1L0.7,1L-0.7,1Z", "filled": true, "color": "#A0A0A0", "opacity": 1, "size": 256, "angle": 90},
     "encoding": {"x": {"field": "x", "type": "quantitative"}, "y": {"field": "y", "type": "quantitative"}}},
    {"data": {"values": [{"x": 39.51, "y": 88.07}, {"x": 77.8, "y": 88.07}]},
     "mark": {"type": "point", "shape": "M0,-1L0.7,1L-0.7,1Z", "filled": true, "color": "#A0A0A0", "opacity": 1, "size": 256, "angle": 199.6},
     "encoding": {"x": {"field": "x", "type": "quantitative"}, "y": {"field": "y", "type": "quantitative"}}},
    {"data": {"values": [{"x": 76.3, "y": 88.07}]},
     "mark": {"type": "point", "shape": "M0,-1L0.7,1L-0.7,1Z", "filled": true, "color": "#A0A0A0", "opacity": 1, "size": 256, "angle": 160.5},
     "encoding": {"x": {"field": "x", "type": "quantitative"}, "y": {"field": "y", "type": "quantitative"}}},
    {"data": {"values": [
       {"x": 31.21, "y": 69.41}, {"x": 46.35, "y": 69.41}, {"x": 38.76, "y": 90.11},
       {"x": 69.52, "y": 69.41}, {"x": 84.67, "y": 69.41}, {"x": 77.05, "y": 90.11}]},
     "mark": {"type": "point", "shape": "M-0.75,0A0.75,1,0,1,1,0.75,0A0.75,1,0,1,1,-0.75,0Z", "filled": true, "fill": "#D9D9D9", "stroke": "#BDBDBD", "strokeWidth": 2, "opacity": 1, "size": 4489},
     "encoding": {"x": {"field": "x", "type": "quantitative"}, "y": {"field": "y", "type": "quantitative"}}},
    {"data": {"values": [
       {"x": 21.05, "y": 64.81, "t": "(a)"}, {"x": 31.14, "y": 64.81, "t": "vowel"}, {"x": 46.29, "y": 64.81, "t": "F1"}, {"x": 38.76, "y": 95.24, "t": "duration"},
       {"x": 59.43, "y": 64.81, "t": "(b)"}, {"x": 69.4, "y": 64.81, "t": "vowel"}, {"x": 84.67, "y": 64.81, "t": "F1"}, {"x": 76.98, "y": 95.24, "t": "duration"}]},
     "mark": {"type": "text", "font": "Liberation Sans", "fontWeight": "bold", "fontSize": 38, "align": "center", "baseline": "middle", "color": "black"},
     "encoding": {"x": {"field": "x", "type": "quantitative"}, "y": {"field": "y", "type": "quantitative"}, "text": {"field": "t"}}}
  ]
}
]
}
